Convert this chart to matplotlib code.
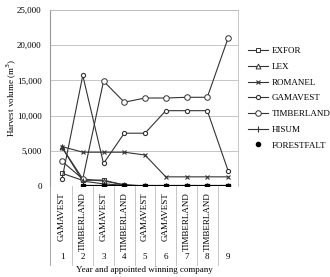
"""Harvest volume per company by year and appointed winner."""

import numpy as np
import matplotlib
matplotlib.use("Agg")
import matplotlib.pyplot as plt
from matplotlib.lines import Line2D

years = [1, 2, 3, 4, 5, 6, 7, 8, 9]
winners = ["GAMAVEST", "TIMBERLAND", "GAMAVEST", "TIMBERLAND", "GAMAVEST",
           "GAMAVEST", "TIMBERLAND", "TIMBERLAND", ""]

exfor = [1800, 800, 850, 100, 0, 0, 0, 0, 0]
lex = [5500, 1000, 700, 200, 0, 0, 0, 0, 0]
romanel = [5600, 4800, 4800, 4800, 4400, 1300, 1300, 1300, 1300]
gamavest = [1000, 15700, 3200, 7500, 7500, 10700, 10700, 10700, 2200]
timberland = [3500, 1000, 14900, 11900, 12500, 12500, 12600, 12600, 21000]
hisum = [5500, 700, 300, 100, 0, 0, 0, 0, 0]
forestfalt = [np.nan, 0, 0, 0, 0, 0, 0, 0, 0]

plt.rcParams["font.family"] = ["Liberation Serif", "DejaVu Serif"]
fs = 6.5

fig = plt.figure(figsize=(3.3, 2.77), dpi=100)
ax = fig.add_axes([50 / 330, 1 - 186 / 277, 188 / 330, 176 / 277])

c = "#333333"
lw = 0.8
ax.plot(years, exfor, color=c, lw=lw, marker="s", ms=3.5, mfc="white", mec=c, mew=0.7, label="EXFOR")
ax.plot(years, lex, color=c, lw=lw, marker="^", ms=3.5, mfc="white", mec=c, mew=0.7, label="LEX")
ax.plot(years, romanel, color=c, lw=lw, marker="x", ms=3.5, mec=c, mew=0.8, label="ROMANEL")
ax.plot(years, gamavest, color=c, lw=lw, marker="o", ms=3, mfc="white", mec=c, mew=0.8, label="GAMAVEST")
ax.plot(years, timberland, color=c, lw=lw, marker="o", ms=4, mfc="white", mec=c, mew=0.7, label="TIMBERLAND")
ax.plot(years, hisum, color=c, lw=lw, marker="|", ms=4.5, mec=c, mew=0.8, label="HISUM")
ax.plot(years, forestfalt, color="black", lw=1.6, marker="s", ms=3.5, mfc="black", mec="black")

ax.set_xlim(0.42, 9.48)
ax.set_ylim(0, 25000)
ax.set_yticks(range(0, 25001, 5000))
ax.set_yticklabels([f"{v:,}" for v in range(0, 25001, 5000)], fontsize=fs)
ax.set_xticks([])
ax.tick_params(axis="y", length=0, pad=6)
ax.grid(True, axis="y", color="#bbbbbb", lw=0.6)
for s in ["top", "right"]:
    ax.spines[s].set_color("#bbbbbb")
    ax.spines[s].set_linewidth(0.6)
ax.spines["left"].set_color("#999999")
ax.spines["bottom"].set_visible(False)
ax.set_ylabel("Harvest volume (m$^3$)", fontsize=fs)
ax.yaxis.set_label_coords(-0.165, 0.5)

# category area below the axis
trans = ax.get_xaxis_transform()
for x in np.arange(1.5, 9.5, 1):
    ax.plot([x, x], [0, -0.45], transform=trans, color="#bbbbbb", lw=0.6, clip_on=False)
ax.plot([0.42, 0.42], [0, -0.45], transform=trans, color="#999999", lw=0.6, clip_on=False)
for x, w in zip(years, winners):
    ax.text(x, -0.035, w, transform=trans, rotation=90, ha="center", va="top", fontsize=fs)
    ax.text(x, -0.405, str(x), transform=trans, ha="center", va="center", fontsize=fs)
fig.text(144 / 330, 1 - 270 / 277, "Year and appointed winning company", ha="center", va="center", fontsize=fs)

handles, labels = ax.get_legend_handles_labels()
handles.append(Line2D([], [], ls="none", marker="o", ms=3, color="black"))
labels.append("FORESTFALT")
fig.legend(handles, labels, loc="upper left", bbox_to_anchor=(248 / 330, 1 - 47 / 277),
           frameon=False, fontsize=fs, handlelength=2.2, labelspacing=0.82, borderaxespad=0,
           borderpad=0, handletextpad=0.4)

fig.savefig("out.png", dpi=100)
